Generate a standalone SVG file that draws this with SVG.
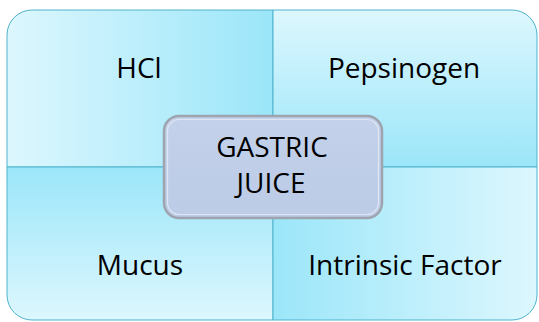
<svg xmlns="http://www.w3.org/2000/svg" width="539" height="322" viewBox="0 0 539 322">
<defs>
<linearGradient id="gH" x1="0" y1="0" x2="1" y2="0"><stop offset="0" stop-color="#ddf7fe"/><stop offset="1" stop-color="#9be6f9"/></linearGradient>
<linearGradient id="gHr" x1="0" y1="0" x2="1" y2="0"><stop offset="0" stop-color="#9be6f9"/><stop offset="1" stop-color="#ddf7fe"/></linearGradient>
<linearGradient id="gV" x1="0" y1="0" x2="0" y2="1"><stop offset="0" stop-color="#ddf7fe"/><stop offset="1" stop-color="#9be6f9"/></linearGradient>
<linearGradient id="gVr" x1="0" y1="0" x2="0" y2="1"><stop offset="0" stop-color="#9be6f9"/><stop offset="1" stop-color="#ddf7fe"/></linearGradient>
<linearGradient id="gC" x1="0" y1="0" x2="0" y2="1"><stop offset="0" stop-color="#c3d1ea"/><stop offset="1" stop-color="#bccbe6"/></linearGradient>
</defs>
<style>
.q{stroke:#4fb3cc;stroke-width:1}
.t{font-family:"Open Sans","Noto Sans",sans-serif;font-size:28px;fill:#000;text-anchor:middle}
</style>
<rect width="539" height="322" fill="#ffffff"/>
<g id="hcl">
<path class="q" fill="url(#gH)" d="M7,167 V35 A25,25 0 0 1 32,10 H273 V167 Z"/>
<text class="t" x="139" y="78">HCl</text>
</g>
<g id="pepsinogen">
<path class="q" fill="url(#gV)" d="M273,10 H512 A25,25 0 0 1 537,35 V167 H273 Z"/>
<text class="t" x="404" y="78">Pepsinogen</text>
</g>
<g id="mucus">
<path class="q" fill="url(#gVr)" d="M7,167 H273 V320 H32 A25,25 0 0 1 7,295 Z"/>
<text class="t" x="140" y="275">Mucus</text>
</g>
<g id="intrinsic-factor">
<path class="q" fill="url(#gHr)" d="M273,167 H537 V295 A25,25 0 0 1 512,320 H273 Z"/>
<text class="t" x="405" y="275">Intrinsic Factor</text>
</g>
<g id="gastric-juice">
<rect x="164" y="116" width="218" height="102" rx="15" fill="url(#gC)" stroke="#9ea4ae" stroke-width="2.5"/>
<rect x="167.5" y="119.5" width="211" height="95" rx="12" fill="none" stroke="#dfe6f3" stroke-width="1.2"/>
<text class="t" x="272" y="157">GASTRIC</text>
<text class="t" x="271" y="193">JUICE</text>
</g>
<g id="connectors"></g>
</svg>
